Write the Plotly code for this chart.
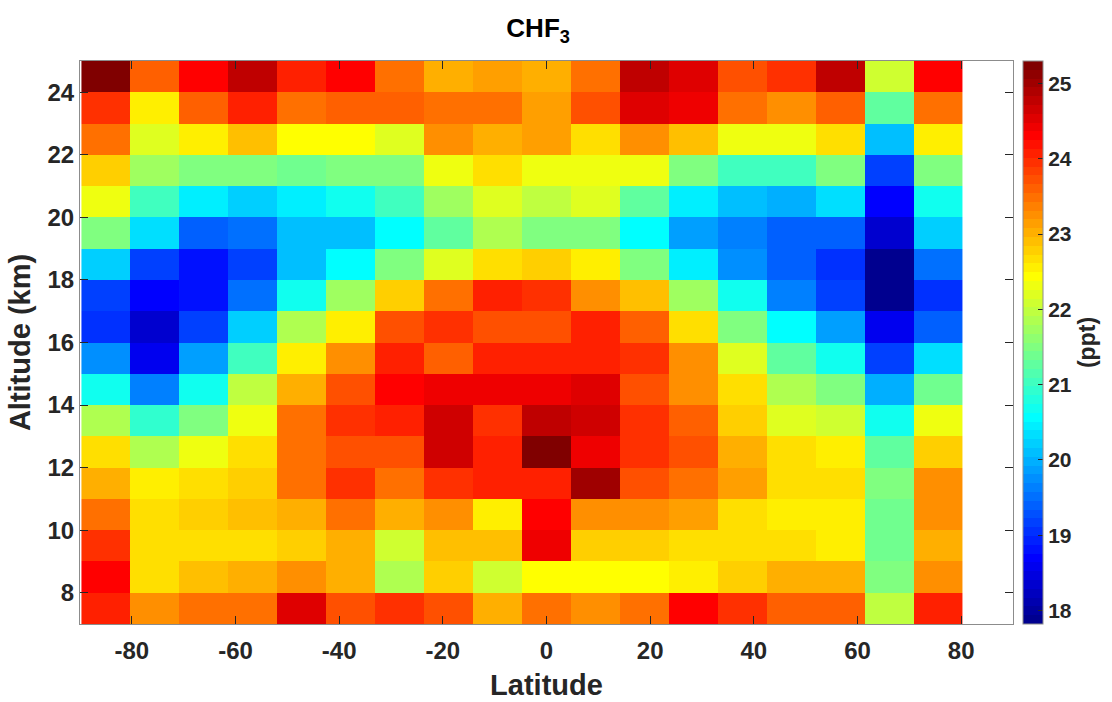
import numpy as np
import plotly.graph_objects as go

# ---------------- data ----------------
latitude = [-85.0, -75.56, -66.12, -56.68, -47.24, -37.79, -28.35, -18.91, -9.47,
            -0.03, 9.41, 18.85, 28.29, 37.74, 47.18, 56.62, 66.06, 75.5]
altitude = [24.5, 23.5, 22.5, 21.5, 20.5, 19.5, 18.5, 17.5, 16.5,
            15.5, 14.5, 13.5, 12.5, 11.5, 10.5, 9.5, 8.5, 7.5]

alt_24_5 = [25.22, 23.66, 24.25, 24.83, 24.13, 24.25, 23.43, 23.07, 23.19, 23.05, 23.43, 24.83, 24.59, 23.78, 23.90, 24.83, 22.03, 24.25]
alt_23_5 = [24.01, 22.61, 23.66, 24.13, 23.43, 23.66, 23.66, 23.43, 23.54, 23.19, 23.78, 24.59, 24.48, 23.43, 23.31, 23.66, 21.21, 23.54]
alt_22_5 = [23.43, 22.21, 22.61, 22.96, 22.38, 22.38, 22.15, 23.31, 23.07, 23.19, 22.72, 23.31, 22.96, 22.27, 22.27, 22.72, 20.05, 22.50]
alt_21_5 = [22.84, 21.68, 21.45, 21.45, 21.33, 21.45, 21.45, 22.27, 22.72, 22.27, 22.33, 22.27, 21.45, 21.09, 21.04, 21.45, 19.22, 21.45]
alt_20_5 = [22.27, 20.98, 20.40, 20.16, 20.40, 20.74, 21.09, 21.68, 22.15, 21.92, 22.15, 21.21, 20.40, 20.05, 19.93, 20.28, 18.64, 20.74]
alt_19_5 = [21.56, 20.28, 19.34, 19.46, 20.05, 20.05, 20.51, 21.21, 21.80, 21.56, 21.45, 20.51, 19.87, 19.58, 19.34, 19.34, 18.29, 20.16]
alt_18_5 = [20.16, 19.22, 18.87, 19.22, 20.05, 20.51, 21.45, 22.15, 22.72, 22.84, 22.50, 21.45, 20.40, 19.69, 19.34, 18.99, 17.82, 19.46]
alt_17_5 = [19.22, 18.64, 18.76, 19.46, 20.74, 21.68, 22.84, 23.43, 24.13, 24.01, 23.31, 22.96, 21.68, 20.63, 19.58, 19.22, 17.93, 18.99]
alt_16_5 = [18.99, 18.29, 19.11, 20.16, 21.80, 22.61, 23.78, 23.90, 23.78, 23.78, 24.13, 23.66, 22.72, 21.45, 20.51, 19.81, 18.53, 19.34]
alt_15_5 = [19.75, 18.53, 19.81, 21.09, 22.50, 23.31, 24.13, 23.66, 24.13, 24.13, 24.13, 23.90, 23.31, 22.15, 21.21, 20.63, 19.22, 20.28]
alt_14_5 = [20.63, 19.58, 20.63, 21.92, 23.07, 23.78, 24.25, 24.37, 24.48, 24.37, 24.59, 23.78, 23.31, 22.72, 21.80, 21.45, 19.93, 21.33]
alt_13_5 = [21.80, 20.86, 21.56, 22.27, 23.43, 24.01, 24.13, 24.70, 23.90, 24.83, 24.70, 24.01, 23.66, 22.84, 22.21, 22.03, 20.63, 22.27]
alt_12_5 = [22.72, 21.80, 22.27, 22.72, 23.54, 23.78, 23.78, 24.70, 24.13, 25.30, 24.48, 24.01, 23.78, 23.07, 22.66, 22.50, 21.21, 22.84]
alt_11_5 = [23.07, 22.61, 22.72, 22.84, 23.54, 24.01, 23.54, 23.90, 24.13, 24.13, 24.95, 23.78, 23.54, 23.19, 22.66, 22.72, 21.45, 23.31]
alt_10_5 = [23.54, 22.72, 22.84, 22.96, 23.07, 23.43, 23.07, 23.31, 22.61, 24.25, 23.31, 23.31, 23.19, 22.72, 22.61, 22.61, 21.33, 23.31]
alt_9_5 = [23.90, 22.72, 22.72, 22.72, 22.84, 23.07, 22.03, 22.96, 22.96, 24.37, 22.84, 22.84, 22.72, 22.72, 22.72, 22.61, 21.33, 23.07]
alt_8_5 = [24.25, 22.72, 22.96, 23.07, 23.31, 23.07, 21.80, 22.84, 22.03, 22.38, 22.38, 22.38, 22.61, 22.84, 23.07, 23.07, 21.56, 23.31]
alt_7_5 = [24.13, 23.31, 23.54, 23.54, 24.59, 23.78, 24.01, 23.78, 23.07, 23.54, 23.31, 23.54, 24.25, 23.90, 23.66, 23.66, 21.92, 24.13]

z_rows = [alt_24_5, alt_23_5, alt_22_5, alt_21_5, alt_20_5, alt_19_5, alt_18_5, alt_17_5, alt_16_5,
          alt_15_5, alt_14_5, alt_13_5, alt_12_5, alt_11_5, alt_10_5, alt_9_5, alt_8_5, alt_7_5]

x_tickvals = [-80, -60, -40, -20, 0, 20, 40, 60, 80]
x_ticktext = ["-80", "-60", "-40", "-20", "0", "20", "40", "60", "80"]
y_tickvals = [8, 10, 12, 14, 16, 18, 20, 22, 24]
cb_tickvals = [18, 19, 20, 21, 22, 23, 24, 25]
z_min, z_max = 17.82, 25.30


# ---------------- MATLAB jet(64) colormap, discrete ----------------
def jet64():
    n, m = 64, 16
    u = [k / 16 for k in range(1, 17)] + [1.0] * 15 + [k / 16 for k in range(16, 0, -1)]
    r = [0.0] * n
    g = [0.0] * n
    b = [0.0] * n
    for i, val in enumerate(u):
        gi = 9 + i
        ri = gi + m
        bi = gi - m
        if 1 <= gi <= n:
            g[gi - 1] = val
        if 1 <= ri <= n:
            r[ri - 1] = val
        if 1 <= bi <= n:
            b[bi - 1] = val
    return [(r[i], g[i], b[i]) for i in range(n)]


cols = jet64()
colorscale = []
for i, (r, g, b) in enumerate(cols):
    c = "rgb(%d,%d,%d)" % (round(r * 255), round(g * 255), round(b * 255))
    colorscale.append([i / 64, c])
    colorscale.append([(i + 1) / 64, c])

FONT = "Liberation Sans, Arial, Helvetica, sans-serif"
TICKC = "#262626"
AXC = "#8c8c8c"

fig = go.Figure(
    go.Heatmap(
        z=z_rows,
        x=latitude,
        y=altitude,
        zmin=z_min,
        zmax=z_max,
        colorscale=colorscale,
        colorbar=dict(
            x=(1022.3 - 80) / 932.7,
            xanchor="left",
            xref="paper",
            xpad=0,
            y=0.5,
            yanchor="middle",
            len=1,
            lenmode="fraction",
            ypad=0,
            thickness=20,
            outlinewidth=1,
            outlinecolor=AXC,
            ticks="inside",
            ticklen=5,
            tickcolor=TICKC,
            tickvals=cb_tickvals,
            tickfont=dict(family=FONT, size=21, color=TICKC, weight="bold"),
            title=dict(text="(ppt)", side="right",
                       font=dict(family=FONT, size=23, color=TICKC, weight="bold")),
        ),
        hoverongaps=False,
    )
)

fig.update_layout(
    width=1112,
    height=702,
    margin=dict(l=80, r=99.3, t=60.7, b=77.7, autoexpand=False),
    paper_bgcolor="white",
    plot_bgcolor="white",
    title=dict(
        text="CHF<sub>3</sub>",
        x=546 / 1112,
        xanchor="center",
        xref="paper",
        y=1 - 28 / 702,
        yref="container",
        yanchor="middle",
        font=dict(family=FONT, size=26, color="black", weight="bold"),
    ),
    xaxis=dict(
        range=[-90, 90],
        tickvals=x_tickvals,
        ticktext=x_ticktext,
        ticks="inside",
        ticklen=8,
        tickcolor=TICKC,
        ticklabelstandoff=5,
        showline=True,
        linecolor=AXC,
        linewidth=1,
        mirror="ticks",
        showgrid=False,
        zeroline=False,
        tickfont=dict(family=FONT, size=24, color=TICKC, weight="bold"),
        title=dict(text="Latitude", standoff=11,
                   font=dict(family=FONT, size=29, color=TICKC, weight="bold")),
    ),
    yaxis=dict(
        range=[7, 25],
        tickvals=y_tickvals,
        ticks="inside",
        ticklen=8,
        tickcolor=TICKC,
        showline=True,
        linecolor=AXC,
        linewidth=1,
        mirror="ticks",
        showgrid=False,
        zeroline=False,
        tickfont=dict(family=FONT, size=24, color=TICKC, weight="bold"),
        title=dict(text="Altitude (km)", standoff=8,
                   font=dict(family=FONT, size=29, color=TICKC, weight="bold")),
    ),
)

fig.write_html("out.html")
